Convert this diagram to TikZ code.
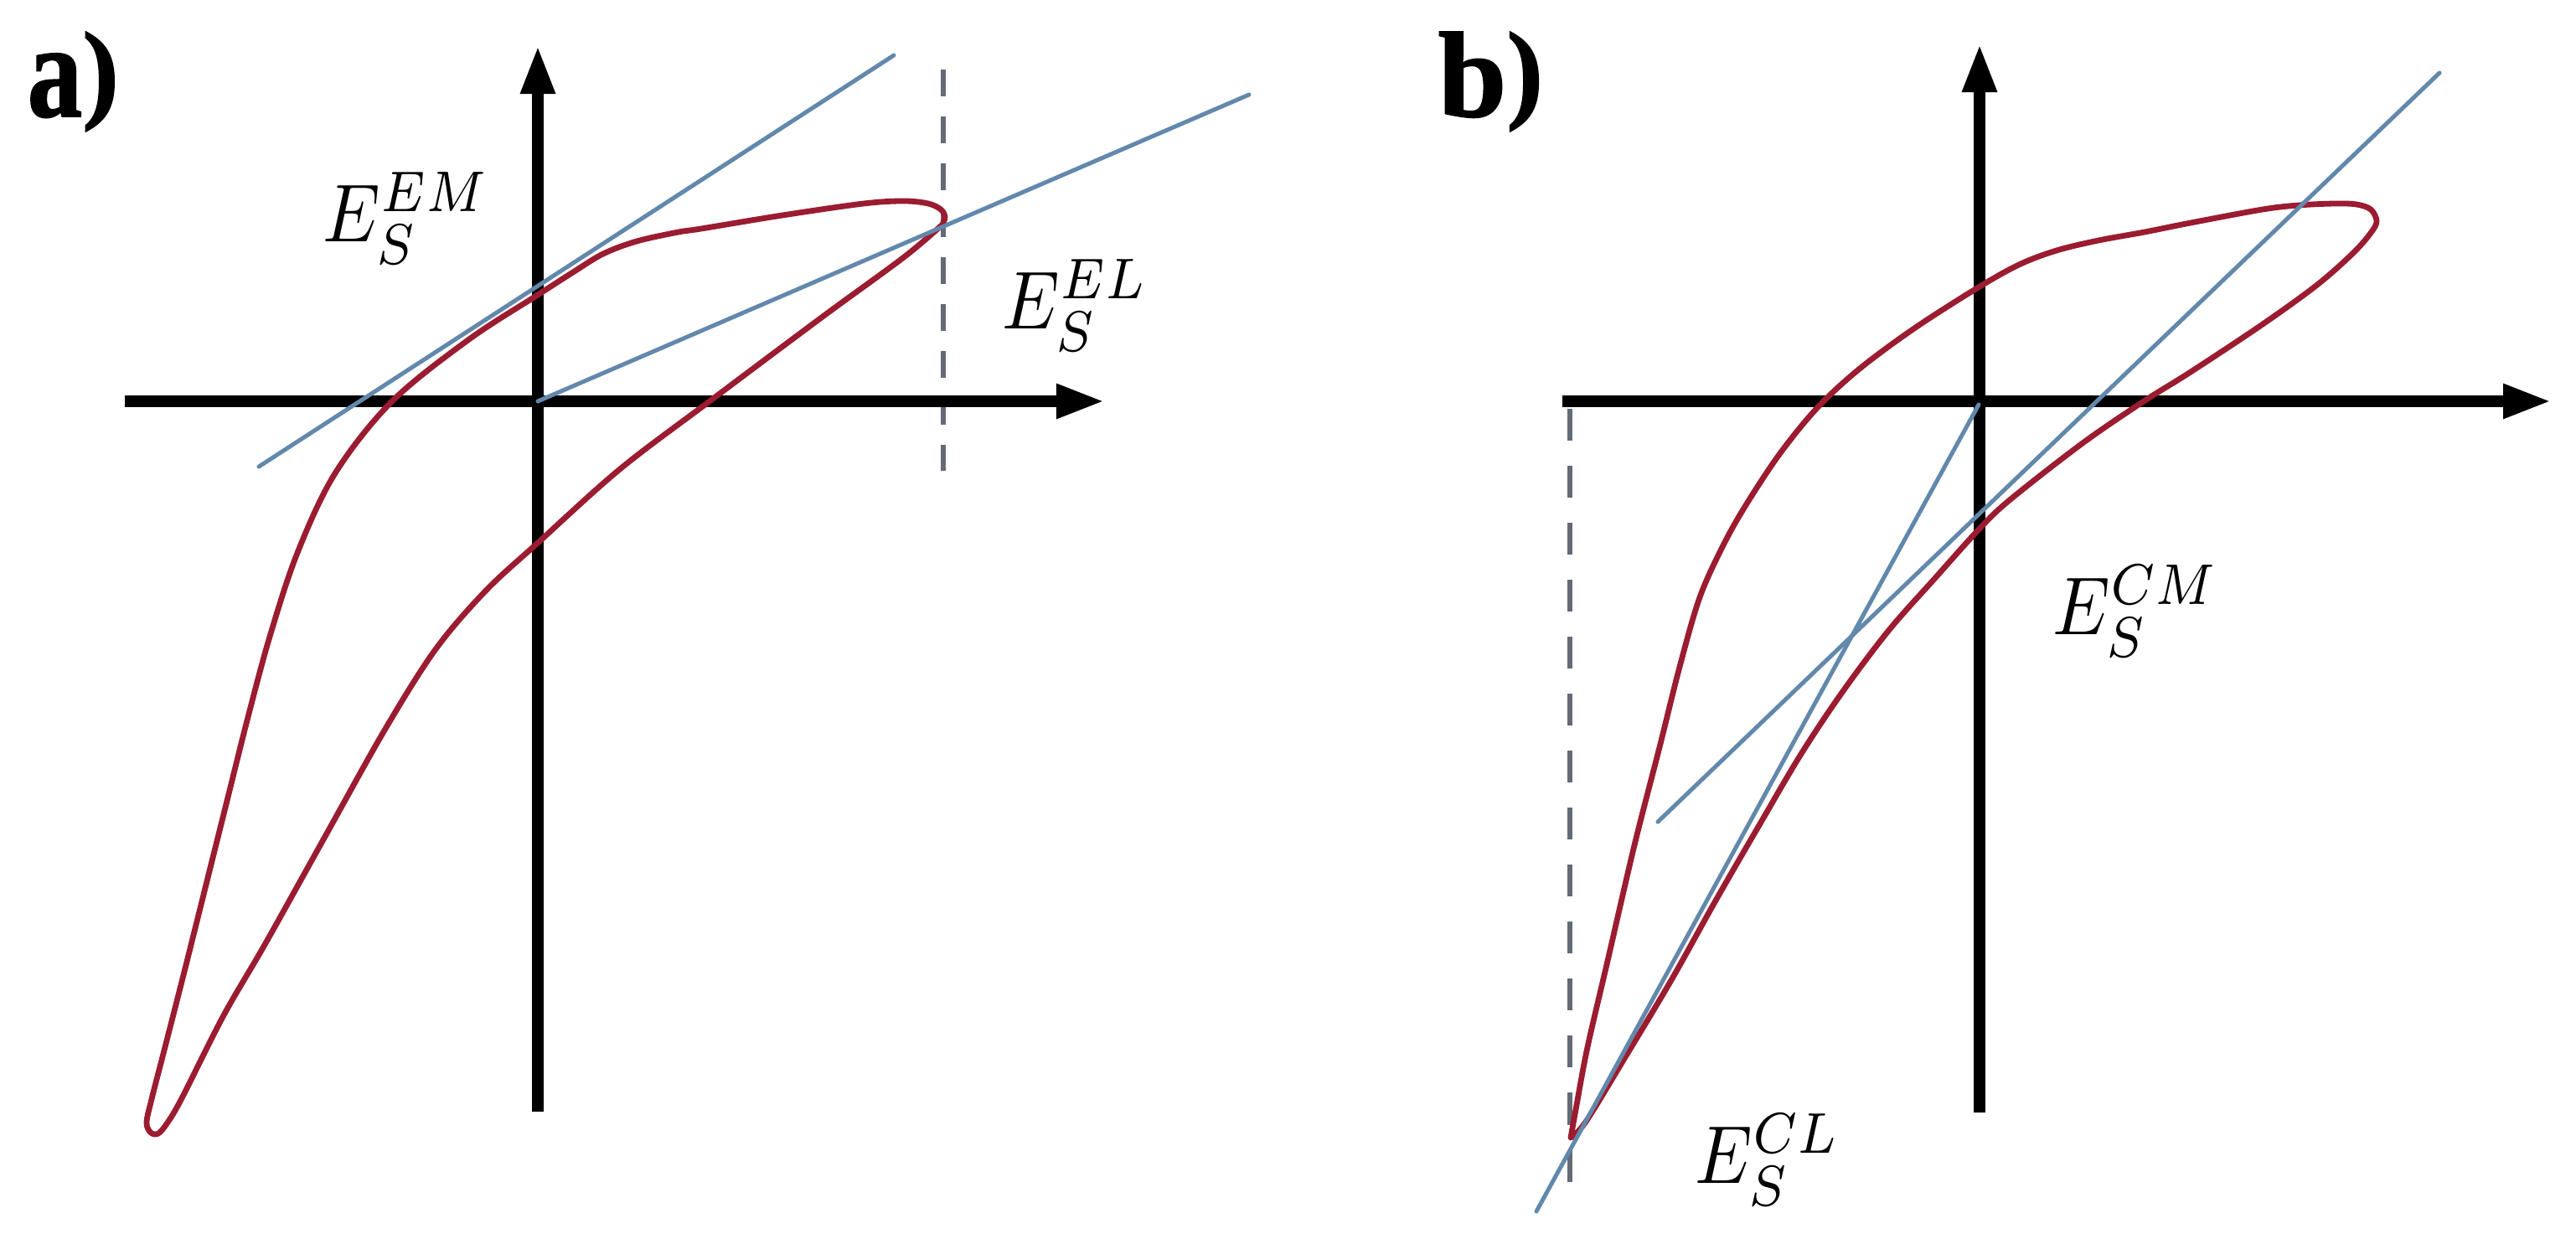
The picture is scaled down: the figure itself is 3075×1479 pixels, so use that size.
\documentclass[tikz,border=0pt]{standalone}
\usepackage{graphicx}
\usepackage{fontspec}
\newfontfamily\panelfont[BoldFeatures={FakeBold=1.2}]{Liberation Serif}
\usetikzlibrary{arrows.meta}
\definecolor{redc}{RGB}{155,28,48}
\definecolor{bluec}{RGB}{98,136,172}
\definecolor{dashc}{RGB}{100,106,118}
\newcommand{\mylab}[1]{\scalebox{2.45}[2.79]{$#1$}}
\begin{document}
\begin{tikzpicture}[x=0.01cm,y=-0.01cm,
  axis/.style={line width=0.14cm,-{Triangle[length=0.58cm,width=0.38cm]}},
  loopc/.style={redc,line width=0.068cm,line join=round,line cap=round},
  tang/.style={bluec,line width=0.05cm,line cap=round},
  guide/.style={dashc,line width=0.06cm,dash pattern=on 0.32cm off 0.24cm},
  lab/.style={inner sep=0,anchor=base west},
  panel/.style={inner sep=0,anchor=base west,font=\panelfont\bfseries\fontsize{37.3pt}{40pt}\selectfont}]
\fill[white] (0,0) rectangle (3075,1479);
\useasboundingbox (0,0) rectangle (3075,1479);

% ---------- panel a ----------
\coordinate (aO) at (642,479);
\coordinate (aYb) at (642,1327);
\coordinate (aYt) at (642,54);
\coordinate (aXl) at (149,479);
\coordinate (aXr) at (1319,479);
\coordinate (aT1s) at (309,557);
\coordinate (aT1e) at (1067,66);
\coordinate (aT2e) at (1491,113);
\coordinate (aDt) at (1126,83);
\coordinate (aDb) at (1126,562);

\draw[guide] (aDt) -- (aDb);
\draw[axis] (aYb) -- (aYt);
\draw[axis] (aXl) -- (aXr);
\draw[loopc] plot[smooth,tension=0.55] coordinates {
 (1125,268) (1128,259) (1123,250) (1108,243) (1079,240) (1031,243) (934,257)
 (837,273) (810,277) (760,288) (720,303) (684,325) (642,352) (560,405) (468,479)
 (400,565) (355,660) (322,760) (295,860) (270,960) (245,1060) (220,1160)
 (197,1250) (181,1312) (175,1340) (180,1352) (189,1353) (200,1340) (217,1311)
 (267,1212) (317,1126) (390,995) (460,870) (520,775) (580,705) (642,648)
 (740,560) (847,479) (982,378) (1079,307) (1125,268)};
\draw[tang] (aT1s) -- (aT1e);
\draw[tang] (aO) -- (aT2e);

\node[panel] (la) at (32,139) {\scalebox{1}[1.22]{a}\raisebox{2.85pt}{)}};
\node[lab] (lEM) at (385,288) {\mylab{E_S^{EM}}};
\node[lab] (lEL) at (1196,392) {\mylab{E_S^{EL}}};

% ---------- panel b ----------
\coordinate (bO) at (2362,483);
\coordinate (bYb) at (2363,1328);
\coordinate (bYt) at (2363,52);
\coordinate (bXl) at (1865,479);
\coordinate (bXr) at (3046,479);
\coordinate (bBe) at (1834,1446);
\coordinate (bAs) at (1979,981);
\coordinate (bAe) at (2912,87);
\coordinate (bDt) at (1874,488);
\coordinate (bDb) at (1874,1416);

\draw[guide,dash pattern=on 0.38cm off 0.3cm] (bDt) -- (bDb);
\draw[axis] (bYb) -- (bYt);
\draw[axis] (bXl) -- (bXr);
\draw[loopc] plot[smooth,tension=0.55] coordinates {
 (1875,1358) (1882,1319) (1895,1250) (1919,1147) (1951,1009) (1981,892)
 (2005,796) (2029,713) (2057,651) (2084,603) (2125,541) (2170,486)
 (2220,440) (2285,392) (2360,344) (2410,316) (2455,299) (2505,287)
 (2560,277) (2615,266) (2701,250) (2744,245) (2787,243) (2813,244) (2830,250)
 (2837,264) (2830,278) (2809,302) (2766,340) (2701,387) (2615,444) (2559,479)
 (2486,529) (2400,596) (2363,631) (2310,690) (2255,752) (2200,825) (2150,900)
 (2100,985) (2048,1075) (1995,1170) (1940,1262) (1893,1339) (1875,1358)};
\draw[tang] (bO) -- (bBe);
\draw[tang] (bAs) -- (bAe);

\node[panel] (lb) at (1716,139) {\scalebox{1.12}[1.11]{b}\raisebox{2.85pt}{)}};
\node[lab] (lCM) at (2450,757) {\mylab{E_S^{CM}}};
\node[lab] (lCL) at (2023,1412) {\mylab{E_S^{CL}}};
\end{tikzpicture}
\end{document}
